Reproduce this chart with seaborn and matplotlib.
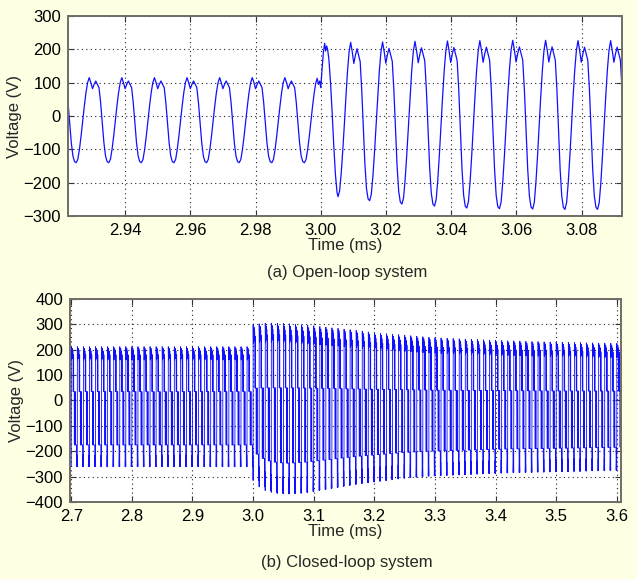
import numpy as np
import pandas as pd
import matplotlib
matplotlib.use("Agg")
import matplotlib.pyplot as plt
import seaborn as sns


# ---- (a) open-loop: one cycle shape (trough -> peak -> trough)
TOP_SHAPE_PHASE = [0.00, 0.05, 0.10, 0.15, 0.20, 0.25, 0.30, 0.35, 0.40, 0.45, 0.50,
                   0.55, 0.60, 0.65, 0.70, 0.75, 0.80, 0.85, 0.90, 0.95, 1.00]
TOP_SHAPE_V = [-140, -130, -100, -60, -15, 30, 70, 100, 115, 100, 82,
               95, 105, 95, 85, 40, -20, -80, -120, -137, -140]
TOP_SHAPE_PEAK = 115
TOP_SHAPE_TROUGH = -140

# trough times / values and the peak of each cycle in between
TOP_PRE_TROUGH_T = [2.915, 2.925, 2.935, 2.945, 2.955, 2.965, 2.975, 2.985, 2.995]
TOP_PRE_TROUGH_V = [-140, -140, -140, -140, -140, -140, -140, -140, -140]
TOP_PRE_PEAK_V = [115, 115, 115, 115, 115, 115, 115, 115]

# step change at t = 3.00 ms
TOP_STEP_T = [2.995, 2.9955, 2.996, 2.9965, 2.997, 2.9975, 2.998, 2.9985, 2.9989, 2.9993,
              2.9997, 3.0000, 3.0004, 3.0008, 3.0012, 3.0015, 3.0018, 3.0021, 3.0025,
              3.0030, 3.0035, 3.0040, 3.0045, 3.0050, 3.0053]
TOP_STEP_V = [-140, -130, -100, -60, -15, 30, 70, 100, 113, 95,
              105, 85, 140, 190, 218, 195, 210, 200, 170,
              100, 10, -90, -175, -230, -242]

TOP_POST_TROUGH_T = [3.0053, 3.0150, 3.0249, 3.0349, 3.0448, 3.0548, 3.0650, 3.0749, 3.0849, 3.0949]
TOP_POST_TROUGH_V = [-242, -254, -264, -270, -276, -278, -279, -280, -280, -280]
TOP_POST_PEAK_V = [221, 222, 224, 225, 226, 227, 227, 226, 226]

# ---- (b) closed-loop: one switching cycle (multilevel PWM)
BOT_SHAPE_PHASE = [0.000, 0.015, 0.05, 0.09, 0.13, 0.17, 0.21, 0.26, 0.30,
                   0.31, 0.36, 0.37, 0.40, 0.41, 0.50, 0.51, 0.62, 0.63, 0.68,
                   0.69, 0.88, 0.90, 0.95, 1.00]
BOT_SHAPE_V = [-261, 212, 160, 200, 165, 205, 170, 195, 175,
               35, 35, 180, 180, 35, 35, -175, -175, 35, 35,
               -175, -175, -261, -215, -261]
BOT_SHAPE_PEAK = 212
BOT_SHAPE_TROUGH = -261

BOT_START = 2.7
BOT_PERIOD = 0.01
BOT_PEAK_V = [212] * 30 + [
    298, 302, 304, 305, 304, 303, 302, 300, 298, 296,
    294, 291, 289, 286, 284, 281, 279, 276, 273, 270,
    267, 265, 263, 261, 259, 257, 255, 253, 251, 249,
    247, 246, 245, 244, 243, 242, 241, 240, 239, 238,
    237, 236, 235, 235, 234, 233, 232, 232, 231, 230,
    230, 229, 229, 228, 228, 227, 227, 226, 226, 225, 225,
]
BOT_TROUGH_V = [-261] * 30 + [
    -315, -340, -355, -362, -366, -368, -367, -365, -362, -358,
    -354, -350, -346, -342, -338, -334, -330, -327, -324, -321,
    -318, -315, -312, -309, -306, -304, -302, -300, -298, -297,
    -296, -295, -294, -293, -292, -291, -290, -289, -288, -287,
    -286, -285, -284, -284, -283, -283, -282, -282, -281, -281,
    -280, -280, -279, -279, -278, -277, -277, -276, -275, -275, -274,
]

BG = "#ffffe4"
LINE = "#1010ff"
FS = 12


def top_cycle(t0, t1, v_start, peak, v_end):
    phase = np.asarray(TOP_SHAPE_PHASE)
    shape = np.asarray(TOP_SHAPE_V, dtype=float)
    v = np.where(shape > 0, shape / TOP_SHAPE_PEAK * peak, 0.0)
    neg = -shape / TOP_SHAPE_TROUGH
    v = np.where((shape <= 0) & (phase < 0.4), neg * -v_start, v)
    v = np.where((shape <= 0) & (phase >= 0.4), neg * -v_end, v)
    return t0 + phase * (t1 - t0), v


def build_top():
    ts, vs = [], []
    for i, pk in enumerate(TOP_PRE_PEAK_V):
        t, v = top_cycle(TOP_PRE_TROUGH_T[i], TOP_PRE_TROUGH_T[i + 1],
                         TOP_PRE_TROUGH_V[i], pk, TOP_PRE_TROUGH_V[i + 1])
        ts.append(t[:-1]); vs.append(v[:-1])
    ts.append(np.asarray(TOP_STEP_T[:-1])); vs.append(np.asarray(TOP_STEP_V[:-1], dtype=float))
    for i, pk in enumerate(TOP_POST_PEAK_V):
        t, v = top_cycle(TOP_POST_TROUGH_T[i], TOP_POST_TROUGH_T[i + 1],
                         TOP_POST_TROUGH_V[i], pk, TOP_POST_TROUGH_V[i + 1])
        ts.append(t); vs.append(v)
    return pd.DataFrame({"t": np.concatenate(ts), "v": np.concatenate(vs)})


def build_bottom():
    phase = np.asarray(BOT_SHAPE_PHASE)
    shape = np.asarray(BOT_SHAPE_V, dtype=float)
    ts, vs = [], []
    for k, (pk, tr) in enumerate(zip(BOT_PEAK_V, BOT_TROUGH_V)):
        v = np.where(shape > 0, shape / BOT_SHAPE_PEAK * pk, shape / BOT_SHAPE_TROUGH * tr)
        ts.append(BOT_START + (k + phase) * BOT_PERIOD)
        vs.append(v)
    return pd.DataFrame({"t": np.concatenate(ts), "v": np.concatenate(vs)})


def style_axes(ax):
    ax.set_facecolor("white")
    ax.grid(True, color="#222222", linestyle=(0, (1, 3)), linewidth=0.8)
    ax.tick_params(direction="in", top=True, right=True, length=4, width=0.8,
                   labelsize=FS, colors="#333333", labelcolor="black", pad=5)
    for sp in ax.spines.values():
        sp.set_visible(True)
        sp.set_color("#6e6e66")
        sp.set_linewidth(1.4)
    ax.set_ylabel("Voltage (V)", fontsize=FS, labelpad=1)
    ax.set_xlabel("Time (ms)", fontsize=FS, labelpad=0)


def main() -> None:
    sns.set_theme(style="ticks")
    plt.rcParams["font.family"] = ["Liberation Sans", "DejaVu Sans"]

    top = build_top()
    bot = build_bottom()

    fig = plt.figure(figsize=(6.37, 5.79), dpi=100)
    fig.patch.set_facecolor(BG)

    ax1 = fig.add_axes([0.1068, 0.6269, 0.8692, 0.3455])
    sns.lineplot(data=top, x="t", y="v", ax=ax1, color=LINE, linewidth=0.9,
                 sort=False, estimator=None)
    ax1.set_xlim(2.9225, 3.0923)
    ax1.set_ylim(-300, 300)
    ax1.set_xticks([2.94, 2.96, 2.98, 3.00, 3.02, 3.04, 3.06, 3.08])
    ax1.set_xticklabels(["2.94", "2.96", "2.98", "3.00", "3.02", "3.04", "3.06", "3.08"])
    ax1.set_yticks([-300, -200, -100, 0, 100, 200, 300])
    style_axes(ax1)
    fig.text(0.545, 1 - 273 / 579, "(a) Open-loop system", ha="center", va="center", fontsize=FS)

    ax2 = fig.add_axes([0.1099, 0.1330, 0.8650, 0.3506])
    sns.lineplot(data=bot, x="t", y="v", ax=ax2, color=LINE, linewidth=0.6,
                 sort=False, estimator=None)
    ax2.set_xlim(2.698, 3.607)
    ax2.set_ylim(-400, 400)
    ax2.set_xticks([2.7, 2.8, 2.9, 3.0, 3.1, 3.2, 3.3, 3.4, 3.5, 3.6])
    ax2.set_yticks([-400, -300, -200, -100, 0, 100, 200, 300, 400])
    style_axes(ax2)
    fig.text(0.545, 1 - 563 / 579, "(b) Closed-loop system", ha="center", va="center", fontsize=FS)

    fig.savefig("out.png", dpi=100, facecolor=BG)
    plt.close(fig)


if __name__ == "__main__":
    main()
